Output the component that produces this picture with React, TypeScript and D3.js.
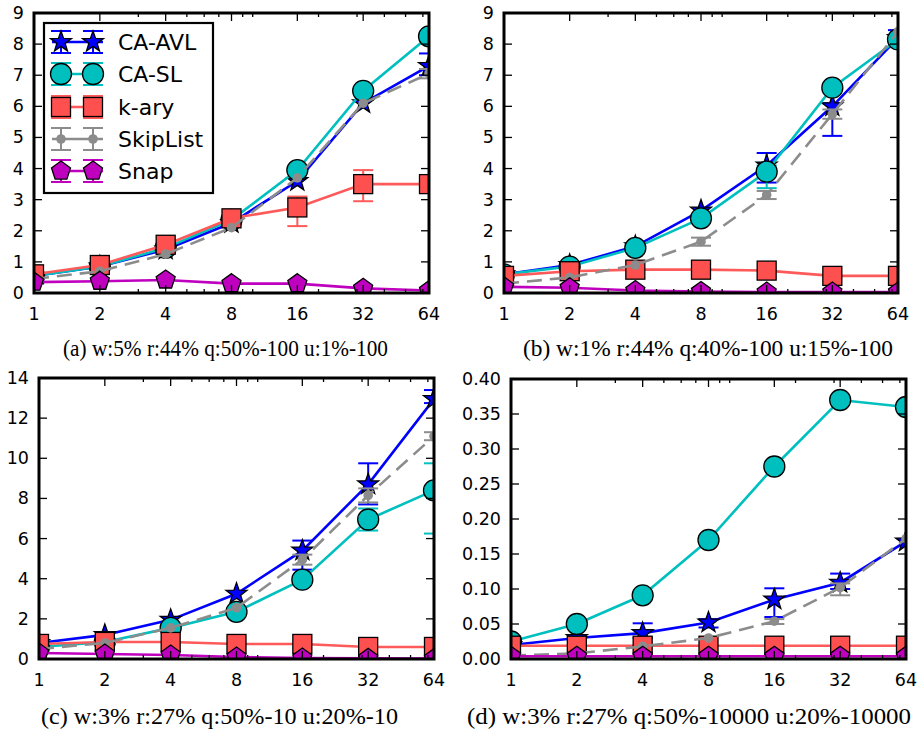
import React from "react";
import * as d3 from "d3";

// threads on the x axis (log2 scale)
const threads = [1, 2, 4, 8, 16, 32, 64];
const seriesNames = ["CA-AVL", "CA-SL", "k-ary", "SkipList", "Snap"];

// (a) w:5% r:44% q:50%-100 u:1%-100
const aAvl = [0.55, 0.85, 1.4, 2.25, 3.6, 6.1, 7.3];
const aSl = [0.55, 0.85, 1.45, 2.35, 3.95, 6.5, 8.25];
const aKary = [0.6, 0.9, 1.55, 2.4, 2.75, 3.5, 3.5];
const aSkip = [0.45, 0.7, 1.25, 2.1, 3.7, 6.1, 7.05];
const aSnap = [0.35, 0.38, 0.42, 0.3, 0.3, 0.15, 0.08];
const aErr = [
  { s: "CA-AVL", t: 64, lo: 7.0, hi: 7.7 },
  { s: "k-ary", t: 16, lo: 2.15, hi: 3.1 },
  { s: "k-ary", t: 32, lo: 2.95, hi: 3.95 },
  { s: "SkipList", t: 64, lo: 6.9, hi: 7.2 },
];

// (b) w:1% r:44% q:40%-100 u:15%-100
const bAvl = [0.6, 0.9, 1.5, 2.65, 4.1, 6.0, 8.2];
const bSl = [0.6, 0.85, 1.45, 2.4, 3.9, 6.6, 8.15];
const bKary = [0.55, 0.7, 0.75, 0.75, 0.72, 0.55, 0.55];
const bSkip = [0.3, 0.5, 0.9, 1.65, 3.15, 5.75, 8.4];
const bSnap = [0.2, 0.17, 0.08, 0.05, 0.03, 0.03, 0.03];
const bErr = [
  { s: "CA-AVL", t: 16, lo: 3.55, hi: 4.5 },
  { s: "CA-AVL", t: 32, lo: 5.05, hi: 6.1 },
  { s: "CA-AVL", t: 64, lo: 8.0, hi: 8.45 },
  { s: "CA-SL", t: 16, lo: 3.37, hi: 4.1 },
  { s: "SkipList", t: 8, lo: 1.52, hi: 1.78 },
  { s: "SkipList", t: 16, lo: 3.02, hi: 3.28 },
  { s: "SkipList", t: 32, lo: 5.6, hi: 5.9 },
];

// (c) w:3% r:27% q:50%-10 u:20%-10
const cAvl = [0.8, 1.2, 1.95, 3.25, 5.4, 8.7, 12.95];
const cSl = [0.6, 0.85, 1.55, 2.35, 3.95, 6.95, 8.4];
const cKary = [0.75, 0.85, 0.85, 0.75, 0.75, 0.6, 0.6];
const cSkip = [0.5, 0.8, 1.55, 2.55, 4.95, 8.15, 11.1];
const cSnap = [0.3, 0.25, 0.2, 0.1, 0.05, 0.03, 0.02];
const cErr = [
  { s: "CA-AVL", t: 16, lo: 4.45, hi: 5.9 },
  { s: "CA-AVL", t: 32, lo: 7.7, hi: 9.75 },
  { s: "CA-AVL", t: 64, lo: 12.75, hi: 13.4 },
  { s: "CA-SL", t: 32, lo: 6.4, hi: 7.5 },
  { s: "CA-SL", t: 64, lo: 6.25, hi: 9.75 },
  { s: "SkipList", t: 16, lo: 4.7, hi: 5.2 },
  { s: "SkipList", t: 32, lo: 7.8, hi: 8.5 },
  { s: "SkipList", t: 64, lo: 10.9, hi: 11.3 },
];

// (d) w:3% r:27% q:50%-10000 u:20%-10000
const dAvl = [0.02, 0.03, 0.037, 0.052, 0.085, 0.109, 0.168];
const dSl = [0.025, 0.05, 0.091, 0.17, 0.275, 0.37, 0.36];
const dKary = [0.019, 0.019, 0.019, 0.019, 0.019, 0.019, 0.019];
const dSkip = [0.005, 0.008, 0.018, 0.03, 0.054, 0.102, 0.172];
const dSnap = [0.004, 0.004, 0.004, 0.004, 0.004, 0.004, 0.004];
const dErr = [
  { s: "CA-AVL", t: 4, lo: 0.03, hi: 0.051 },
  { s: "CA-AVL", t: 8, lo: 0.045, hi: 0.057 },
  { s: "CA-AVL", t: 16, lo: 0.06, hi: 0.101 },
  { s: "CA-AVL", t: 32, lo: 0.1, hi: 0.122 },
  { s: "SkipList", t: 16, lo: 0.05, hi: 0.057 },
  { s: "SkipList", t: 32, lo: 0.091, hi: 0.108 },
];

const captions = [
  "(a) w:5% r:44% q:50%-100 u:1%-100",
  "(b) w:1% r:44% q:40%-100 u:15%-100",
  "(c) w:3% r:27% q:50%-10 u:20%-10",
  "(d) w:3% r:27% q:50%-10000 u:20%-10000",
];

const style: any = {
  "CA-AVL": { color: "#0000ff", fill: "#0000ff", marker: "star", dash: null },
  "CA-SL": { color: "#00bfbf", fill: "#00bfbf", marker: "circle", dash: null },
  "k-ary": { color: "#ff5a5a", fill: "#ff5050", marker: "square", dash: null },
  SkipList: { color: "#8c8c8c", fill: "#8c8c8c", marker: "dot", dash: "15,8" },
  Snap: { color: "#bf00bf", fill: "#bf00bf", marker: "pentagon", dash: null },
};

function polygon(n: number, R: number, r: number | null) {
  const pts: [number, number][] = [];
  const k = r === null ? n : n * 2;
  for (let i = 0; i < k; i++) {
    const a = -Math.PI / 2 + (i * 2 * Math.PI) / k;
    const rad = r === null || i % 2 === 0 ? R : r;
    pts.push([rad * Math.cos(a), rad * Math.sin(a)]);
  }
  return "M" + pts.map((p) => p[0].toFixed(2) + "," + p[1].toFixed(2)).join("L") + "Z";
}

function Marker({ kind, x, y }: any) {
  const st = Object.values(style).find((s: any) => s.marker === kind) as any;
  if (kind === "circle")
    return <circle cx={x} cy={y} r={10.5} fill={st.fill} stroke="#000" strokeWidth={1.3} />;
  if (kind === "dot") return <circle cx={x} cy={y} r={4.8} fill={st.fill} />;
  if (kind === "square")
    return <rect x={x - 9.5} y={y - 9.5} width={19} height={19} fill={st.fill} stroke="#000" strokeWidth={1.3} />;
  const d = kind === "star" ? polygon(5, 11, 4.4) : polygon(5, 10, null);
  return <path d={d} transform={`translate(${x},${y})`} fill={st.fill} stroke="#000" strokeWidth={1.3} />;
}

const panels = [
  { x0: 34, x1: 429, y0: 13, y1: 293, yMax: 9, ticks: d3.range(0, 10), fmt: d3.format("d"),
    data: [aAvl, aSl, aKary, aSkip, aSnap], err: aErr, cap: captions[0], cx0: 63, cx1: 388, cy: 356, legend: true },
  { x0: 504, x1: 898, y0: 13, y1: 293, yMax: 9, ticks: d3.range(0, 10), fmt: d3.format("d"),
    data: [bAvl, bSl, bKary, bSkip, bSnap], err: bErr, cap: captions[1], cx0: 523, cx1: 893, cy: 356, legend: false },
  { x0: 39, x1: 434, y0: 378, y1: 659, yMax: 14, ticks: d3.range(0, 15, 2), fmt: d3.format("d"),
    data: [cAvl, cSl, cKary, cSkip, cSnap], err: cErr, cap: captions[2], cx0: 41, cx1: 398, cy: 724, legend: false },
  { x0: 511, x1: 906, y0: 379, y1: 659, yMax: 0.4, ticks: d3.range(0, 0.401, 0.05), fmt: d3.format(".2f"),
    data: [dAvl, dSl, dKary, dSkip, dSnap], err: dErr, cap: captions[3], cx0: 467, cx1: 911, cy: 724, legend: false },
];

const minorTicks = [3, 5, 6, 7, 9, 10, 20, 30, 40, 50, 60];

function Panel({ p, idx }: any) {
  const x = d3.scaleLog().base(2).domain([1, 64]).range([p.x0, p.x1]);
  const y = d3.scaleLinear().domain([0, p.yMax]).range([p.y1, p.y0]);
  const clipId = "clip" + idx;
  const line = d3.line<number>().x((_, i) => x(threads[i])).y((v) => y(v));
  return (
    <g>
      <defs>
        <clipPath id={clipId}>
          <rect x={p.x0} y={p.y0} width={p.x1 - p.x0} height={p.y1 - p.y0} />
        </clipPath>
      </defs>
      <g clipPath={`url(#${clipId})`}>
        {seriesNames.map((name, si) => {
          const st = style[name];
          const vals = p.data[si];
          const errs = p.err.filter((e: any) => e.s === name);
          return (
            <g key={name}>
              <path d={line(vals) || ""} fill="none" stroke={st.color} strokeWidth={2.6}
                strokeDasharray={st.dash || undefined} />
              {errs.map((e: any, k: number) => (
                <g key={k} stroke={st.color} strokeWidth={2}>
                  <line x1={x(e.t)} x2={x(e.t)} y1={y(e.lo)} y2={y(e.hi)} />
                  <line x1={x(e.t) - 10} x2={x(e.t) + 10} y1={y(e.lo)} y2={y(e.lo)} />
                  <line x1={x(e.t) - 10} x2={x(e.t) + 10} y1={y(e.hi)} y2={y(e.hi)} />
                </g>
              ))}
              {vals.map((v: number, i: number) => (
                <Marker key={i} kind={st.marker} x={x(threads[i])} y={y(v)} />
              ))}
            </g>
          );
        })}
      </g>
      {/* ticks, inward on all four sides */}
      <g stroke="#000" strokeWidth={1.3}>
        {threads.map((t) => (
          <g key={"M" + t}>
            <line x1={x(t)} x2={x(t)} y1={p.y1} y2={p.y1 - 8} />
            <line x1={x(t)} x2={x(t)} y1={p.y0} y2={p.y0 + 8} />
          </g>
        ))}
        {minorTicks.map((t) => (
          <g key={"m" + t}>
            <line x1={x(t)} x2={x(t)} y1={p.y1} y2={p.y1 - 4} />
            <line x1={x(t)} x2={x(t)} y1={p.y0} y2={p.y0 + 4} />
          </g>
        ))}
        {p.ticks.map((t: number) => (
          <g key={"y" + t}>
            <line x1={p.x0} x2={p.x0 + 8} y1={y(t)} y2={y(t)} />
            <line x1={p.x1} x2={p.x1 - 8} y1={y(t)} y2={y(t)} />
          </g>
        ))}
      </g>
      <rect x={p.x0} y={p.y0} width={p.x1 - p.x0} height={p.y1 - p.y0} fill="none" stroke="#000" strokeWidth={3} />
      <g fontFamily="DejaVu Sans" fontSize={17.5} fill="#000">
        {threads.map((t) => (
          <text key={t} x={x(t)} y={p.y1 + 27} textAnchor="middle">{t}</text>
        ))}
        {p.ticks.map((t: number) => (
          <text key={t} x={p.x0 - 10} y={y(t) + 6} textAnchor="end">{p.fmt(t)}</text>
        ))}
      </g>
      <text x={p.cx0} y={p.cy} fontFamily="Liberation Serif" fontSize={23} textLength={p.cx1 - p.cx0}
        lengthAdjust="spacingAndGlyphs">{p.cap}</text>
      {p.legend && <Legend />}
    </g>
  );
}

function Legend() {
  const rows = [42, 74, 107, 139, 171];
  return (
    <g>
      <rect x={44} y={23} width={169} height={170} fill="#fff" stroke="#000" strokeWidth={2.2} />
      {seriesNames.map((name, i) => {
        const st = style[name];
        const cy = rows[i];
        return (
          <g key={name}>
            <line x1={52} x2={103} y1={cy} y2={cy} stroke={st.color} strokeWidth={2.6} />
            {[61, 93].map((mx) => (
              <g key={mx} stroke={st.color} strokeWidth={2}>
                <line x1={mx} x2={mx} y1={cy - 11} y2={cy + 11} />
                <line x1={mx - 10} x2={mx + 10} y1={cy - 11} y2={cy - 11} />
                <line x1={mx - 10} x2={mx + 10} y1={cy + 11} y2={cy + 11} />
              </g>
            ))}
            <Marker kind={st.marker} x={61} y={cy} />
            <Marker kind={st.marker} x={93} y={cy} />
            <text x={118} y={cy + 8} fontFamily="DejaVu Sans" fontSize={22}>{name}</text>
          </g>
        );
      })}
    </g>
  );
}

export default function App() {
  return (
    <svg width={919} height={731} style={{ position: "absolute", left: 0, top: 0, background: "#fff" }}>
      <rect width={919} height={731} fill="#fff" />
      {panels.map((p, i) => (
        <Panel key={i} p={p} idx={i} />
      ))}
    </svg>
  );
}
